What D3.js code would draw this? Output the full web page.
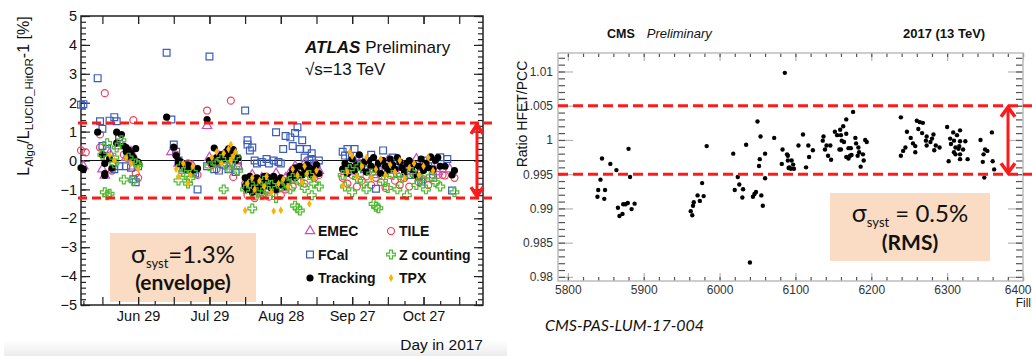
<!DOCTYPE html>
<html>
<head>
<meta charset="utf-8">
<script src="https://cdn.jsdelivr.net/npm/d3@7"></script>
<style>
  body { margin: 0; background: #fff; }
  svg { display: block; }
  text { font-family: "Liberation Sans", Arial, sans-serif; }
  .box { font-family: Lato, "Open Sans", sans-serif; }
</style>
</head>
<body>
<svg id="chart" width="1032" height="356"></svg>
<script>
// ---------- ATLAS (links): [dag van 2017, L_Algo/L_LUCID - 1 in %] ----------
const emec = [
  [157, -0.2], [165, -0.3], [166.5, -0.52], [168, 0.25], [172, 0.5], [175.5, 0.1], [177, 0.3], [178, -0.2], [179.5, 0.0],
  [194.5, 0.3], [197, -0.1], [199, -0.3], [201, -0.25], [203.5, -0.2],
  [209.8, 1.2], [210, 0.1], [212, -0.05], [214, 0.15], [216, 0.0], [218.5, -0.2], [220, 0.2], [222, -0.2],
  [226, -0.7], [228, -0.5], [230, -0.9], [232, -0.6], [234, -1.0], [236, -0.7], [238, -0.45], [240, -0.95], [242, -0.6],
  [244, -0.4], [246, -0.2], [248, -0.35], [250, -0.1], [252, -0.3], [254, -0.2], [256, -0.35],
  [267, -0.2], [270, -0.4], [273, -0.1], [276, -0.3], [279, -0.5], [282, -0.2], [285, 0.0], [288, -0.35], [291, -0.15],
  [294, -0.4], [297, 0.05], [300, -0.25], [303, -0.1], [306, -0.4], [311, -0.3]
];
const tile = [
  [156.8, 0.35], [158, 0.28],
  [166.8, 2.33], [164.5, 0.9], [164.8, 0.45], [167, 0.1], [169.8, -0.35], [172.5, 0.8], [174, 0.2], [176, 0.05],
  [177.5, 0.2], [178.5, 1.4], [179, -0.45], [180.5, -0.6],
  [195, 0.45], [196.5, 0.2], [199, -0.2], [201.5, -0.1], [203.5, -0.35], [205, -0.5],
  [209.8, 1.73], [211, -0.15], [213.5, -0.3], [215, 0.2], [217.5, -0.1], [219.2, 2.07], [220.5, -0.57], [222, 0.0],
  [225, -0.8], [226.5, -1.2], [228, -0.95], [229.5, -1.3], [231, -0.7], [232.5, -1.1], [234, -0.56], [235.5, -1.25],
  [237, -0.6], [238.5, -1.0], [240, -1.2], [241, -0.7], [242.5, -1.0], [244, -0.55], [245.5, -0.9], [247, -0.7],
  [248.5, -0.5], [250, -0.8], [252, -0.4], [254, -0.6], [256, -0.5],
  [266, -0.6], [268, -0.8], [270, -0.5], [272, -0.9], [274, -0.7], [276, -0.55], [278, -0.85], [280, -0.6], [282, -0.75],
  [284, -0.95], [286, -0.5], [288, -0.7], [290, -0.85], [292, -0.6], [294, -0.9], [296, -0.5], [298, -0.75], [300, -0.65],
  [302, -0.85], [304, -0.5], [306, -0.5], [308, -0.5], [309.6, -0.52], [313, -0.6]
];
const fcal = [
  [156.3, 1.93], [157.5, 1.95],
  [163.5, 2.85], [164.3, 1.36], [165, 1.1], [165.8, 0.5], [167, 0.4], [168.5, 1.38], [170.5, 1.5], [171.5, 1.36], [172, 0.8],
  [170, -0.3], [172.5, -0.2], [175, -0.2], [177, -0.25], [178.5, -0.65], [179.5, -0.75], [180, -0.2],
  [192.8, 3.73], [194.5, 1.42], [195, 0.55], [196, 0.3], [197.5, 0.0], [199.5, -0.15], [201, -0.3], [203, -0.4], [204, -0.45], [205, -1.0],
  [210, 3.6], [209, -0.2], [212, -0.3], [214, -0.35], [216, -0.15], [218, -0.3], [219.5, -0.1], [221, -0.4], [222, -0.2],
  [225.5, 1.73], [226, 0.55], [226.5, 0.7], [227.5, 0.35], [228, 0.45], [229, 0.0], [230, -0.1], [232, -0.05], [234, 0.05],
  [235.5, -0.1], [237, 0.0], [238, 0.98], [239, -0.05], [240.5, -0.1], [241.5, 0.4], [242.5, 0.85], [244, 0.8], [245, 0.5],
  [246.5, 0.95], [247, 1.15], [248, 0.4], [249.5, 0.7], [250, 0.1], [251, 0.4], [252, 0.0], [253, 0.25], [253.5, 0.05],
  [254.5, -0.1], [255.5, -0.25], [256, 0.0],
  [266, 0.3], [267, 0.17], [268, 0.4], [269.5, 0.15], [271.8, 0.4], [272, -0.1], [273.5, 0.05], [275, -0.3], [280, -0.98],
  [278, 0.2], [283.7, 0.35], [282, -0.1], [284, -0.35], [287, 0.1], [288, -0.25], [290, -0.45], [292, -0.15], [294, -0.5],
  [296, -0.3], [299.7, -0.73], [298, -0.55], [300, 0.0], [302, -0.2], [304, -0.6], [307.5, 0.11], [310, 0.05], [312, -1.04]
];
const zcount = [
  [165, 0.2], [166, -1.1], [167, -1.2], [168, -1.15], [167.5, 0.6], [170, 0.1], [170.5, -0.1], [171.5, 0.45], [173.5, 0.7],
  [174.5, -0.66], [176, 0.1], [178.5, -0.7], [179, -0.1], [180.5, -0.15],
  [197.5, -0.69], [198, -0.2], [199, -0.4], [200.5, -0.5], [201.5, -0.8], [202.5, -0.6], [203, -0.4],
  [210.5, -0.2], [213, -0.1], [215, 0.05], [216.8, -1.0], [218, -0.25], [219.5, -0.05], [221, 0.15], [222.5, -0.35],
  [225.5, -1.0], [227, -0.8], [228.3, -1.66], [229, -1.2], [231, -0.9], [232.5, -1.2], [233.5, -0.7], [235, -1.05],
  [236.5, -0.85], [238, -1.3], [240, -0.9], [242, -0.75], [244, -1.0], [245.5, -0.6], [246, -1.56], [247.5, -1.65],
  [248, -1.73], [248.5, -0.7], [250.5, -0.95], [252, -0.5], [253, -1.2], [254.5, -0.8], [256, -0.9],
  [266, -0.5], [267.5, -0.9], [269, -0.3], [270.5, -1.1], [272, -0.6], [273.5, -0.2], [275, -0.8], [276.5, -1.0],
  [278, -0.45], [279.5, -1.5], [280.5, -1.6], [281.5, -1.65], [283, -0.7], [285, -0.95], [287, -0.5], [289, -1.0],
  [291, -0.6], [293, -1.2], [295, -0.4], [297, -0.85], [299, -0.65], [301, -1.0], [303, -0.55], [305, -0.75],
  [307.5, -0.9], [313, -1.1]
];
const tracking = [
  [156.5, -0.25], [157.8, -0.3],
  [163.5, 0.98], [165.5, 0.2], [166, -0.52], [166.3, -0.45], [166.5, -0.1], [168, 0.05], [169.5, -0.27], [171.3, 0.98],
  [171.8, 0.6], [173.5, 0.9], [174.5, 0.5], [175, 0.3], [175.5, 0.45], [176, 0.15], [176.5, 0.35], [177.3, 0.25],
  [178, 0.1], [179.8, 0.41], [180.5, -0.05],
  [192.5, 1.5], [195, 0.46], [196.3, 0.17], [197, 0.0], [197.5, -0.1], [198.5, -0.05], [199, -0.2], [200, -0.3],
  [201, -0.15], [202, -0.25], [203, -0.35], [205, -0.28],
  [209.8, 1.42], [210.5, 0.0], [211.5, -0.1], [212.5, 0.43], [213.5, 0.1], [214.5, -0.05], [215.5, 0.2], [216.5, 0.05],
  [217, 0.3], [218, 0.15], [218.5, 0.4], [219.5, 0.1], [220, 0.25], [220.5, 0.38], [221.5, 0.0], [222.5, 0.1],
  [225, -0.6], [225.5, -0.9], [226, -0.75], [226.5, -1.0], [227, -0.55], [227.5, -0.8], [228, -1.1], [228.5, -0.65],
  [229, -0.9], [229.5, -0.7], [230, -1.0], [230.5, -0.6], [231, -0.85], [232, -0.75], [232.5, -1.05], [233, -0.55],
  [234, -0.9], [234.5, -0.7], [235, -0.6], [236, -0.95], [237, -0.8], [237.5, -0.55], [238, -1.0], [239, -0.7],
  [240, -0.85], [240.5, -0.6], [241, -0.75], [242, -0.9], [243, -0.7], [244, -0.5], [245, -0.35], [246, -0.6],
  [246.5, -0.25], [247.5, -0.45], [248, -0.2], [249, -0.5], [250, -0.3], [251, -0.15], [251.5, -0.4], [252.5, -0.25],
  [253.5, -0.5], [254.5, -0.3], [255, -0.15], [256, -0.45],
  [266, -0.3], [267, -0.1], [268, -0.45], [269, -0.2], [270, 0.05], [271, -0.35], [272, -0.15], [273, 0.2], [274, -0.25],
  [275, -0.05], [276, -0.4], [277, 0.0], [278, -0.2], [279, 0.1], [280, -0.3], [281, -0.1], [282, -0.45], [283, 0.0],
  [284, -0.2], [285, -0.35], [286, 0.05], [287, -0.15], [288, -0.3], [289, 0.1], [290, -0.05], [291, -0.25], [292, -0.4],
  [293, -0.1], [294, 0.0], [295, -0.3], [296, -0.15], [297, -0.5], [298, -0.2], [299, 0.05], [300, -0.35], [301, -0.1],
  [302, -0.25], [303, 0.13], [304, -0.3], [305, 0.0], [306, 0.1], [307.5, -0.2], [309, -0.2], [312.5, -0.5], [313, -0.35]
];
const tpx = [
  [168, 0.2], [170, 0.0], [175, 0.1], [177, -0.1], [180, -0.3],
  [196, -0.3], [197.5, -0.55], [199.5, -0.1], [201, -0.78], [202, -0.5], [203, -0.2],
  [211, 0.1], [213, 0.3], [215, -0.1], [216.5, 0.25], [218, 0.4], [219.3, 0.55], [219.5, 0.0], [220, 0.15], [221, 0.3],
  [225.5, -1.73], [226.5, -0.8], [228, -0.6], [229.5, -1.0], [231, -0.7], [233, -0.9], [234.5, -0.55], [236, -1.1],
  [237.5, -1.75], [239, -0.8], [240.5, -1.72], [241.5, -0.65], [243, -0.9], [245, -0.3], [247, -0.5], [249, -0.75],
  [250, -0.2], [251, -0.45], [252.5, -1.5], [254, -0.6], [255.5, -0.35],
  [266, -0.87], [269, 0.29], [268, -0.4], [270, 0.15], [272, -0.55], [274, -0.2], [276, 0.1], [278, -0.6], [280, -0.3],
  [282, 0.05], [284, -0.5], [286, -0.15], [288, -0.4], [290, 0.0], [292, -0.6], [294, -0.25], [296, -0.1], [298, -0.5],
  [300, -0.2], [302, 0.1], [304, -0.35]
];
const atlasTickDays = [180, 210, 240, 270, 300];
const atlasTickLabels = ["Jun 29", "Jul 29", "Aug 28", "Sep 27", "Oct 27"];
const atlasEnvelope = 1.3;

// ---------- CMS (rechts): [fill, HFET/PCC] ----------
const cmsPoints = [
  [5845, 0.9973], [5843, 0.9942], [5840, 0.9927], [5849, 0.9927], [5839, 0.9917], [5848, 0.9914], [5856, 0.9965],
  [5864, 0.9956], [5880, 0.9987], [5882, 0.9946], [5866, 0.9901], [5868, 0.9889], [5872, 0.9892], [5873, 0.9906],
  [5876, 0.9906], [5879, 0.9908], [5884, 0.9899], [5888, 0.9907],
  [5983, 0.9991], [5977, 0.9937], [5971, 0.9919], [5979, 0.9918], [5974, 0.9911], [5966, 0.9909], [5965, 0.9904],
  [5962, 0.9896], [5964, 0.9890],
  [6018, 0.9980], [6024, 0.9946], [6020, 0.9927], [6026, 0.9935], [6031, 0.9928], [6030, 0.9916], [6035, 0.9993],
  [6040, 0.9821], [6044, 0.9917], [6046, 0.9921], [6048, 0.9924], [6050, 1.0027], [6054, 1.0005], [6053, 0.9972],
  [6052, 0.9962], [6055, 0.9919], [6057, 0.9904], [6060, 0.9980], [6060, 0.9944], [6072, 1.0003],
  [6086, 1.0098], [6083, 0.9986], [6082, 0.9965], [6089, 0.9979], [6090, 0.9977], [6091, 0.9959], [6090, 0.9970],
  [6095, 0.9970], [6097, 0.9964], [6092, 0.9960], [6094, 0.9958], [6098, 0.9958],
  [6110, 1.0008], [6104, 0.9992], [6117, 0.9992], [6123, 0.9985], [6118, 0.9975], [6114, 0.9960],
  [6137, 1.0005], [6136, 0.9999], [6141, 0.9992], [6146, 0.9992], [6139, 0.9986], [6143, 0.9977], [6147, 0.9971],
  [6152, 1.0012], [6159, 1.0015], [6163, 1.0020], [6167, 1.0030], [6176, 1.0041], [6155, 1.0007], [6160, 1.0007],
  [6161, 0.9999], [6167, 1.0009], [6158, 0.9986], [6160, 0.9986], [6170, 0.9988], [6173, 0.9988], [6164, 0.9997],
  [6167, 0.9975], [6172, 0.9977], [6174, 0.9978], [6170, 0.9973], [6179, 1.0003], [6180, 0.9995], [6183, 0.9989],
  [6184, 0.9982], [6182, 0.9977], [6189, 0.9979], [6186, 0.9961], [6190, 0.9970], [6192, 1.0000], [6194, 0.9997],
  [6239, 1.0033], [6247, 1.0012], [6252, 1.0003], [6255, 0.9995], [6245, 0.9989], [6242, 0.9984], [6239, 0.9977],
  [6258, 0.9991], [6258, 0.9982], [6260, 1.0028], [6264, 1.0026], [6268, 1.0025], [6262, 1.0016], [6267, 1.0010],
  [6273, 1.0005], [6282, 1.0008], [6272, 0.9999], [6278, 0.9997], [6280, 1.0002], [6273, 0.9992], [6285, 0.9992],
  [6290, 0.9989], [6283, 0.9985],
  [6300, 1.0019], [6308, 1.0011], [6317, 1.0014], [6304, 1.0002], [6309, 0.9999], [6313, 1.0007], [6317, 0.9998],
  [6305, 0.9994], [6311, 0.9989], [6316, 0.9991], [6309, 0.9982], [6315, 0.9987], [6324, 0.9998], [6321, 0.9986],
  [6311, 0.9979], [6317, 0.9979], [6302, 0.9969], [6317, 0.9972], [6327, 0.9972],
  [6344, 1.0000], [6359, 1.0011], [6350, 0.9986], [6353, 0.9984], [6348, 0.9979], [6347, 0.9968], [6360, 0.9969],
  [6362, 0.9957], [6349, 0.9945]
];
const cmsTicksX = [5800, 5900, 6000, 6100, 6200, 6300, 6400];
const cmsTicksY = [0.98, 0.985, 0.99, 0.995, 1, 1.005, 1.01];
const cmsBand = [0.995, 1.005];

const svg = d3.select("#chart");
const peach = "#f9dcc3";
const rood = "#ff1a1a";

function dag(d) { return new Date(2017, 0, d); }

function maakAtlas() {
  const x = d3.scaleTime().domain([dag(156), dag(325)]).range([81, 483]);
  const y = d3.scaleLinear().domain([-5, 5]).range([305, 16]);
  const g = svg.append("g");

  // onderste rand: lichtgrijs verloop
  const grad = svg.append("defs").append("linearGradient").attr("id", "onder").attr("x1", 0).attr("x2", 0).attr("y1", 0).attr("y2", 1);
  grad.append("stop").attr("offset", 0).attr("stop-color", "#fff");
  grad.append("stop").attr("offset", 1).attr("stop-color", "#ececec");
  g.append("rect").attr("x", 4).attr("y", 340).attr("width", 503).attr("height", 16).attr("fill", "url(#onder)");

  // peach vak
  g.append("rect").attr("x", 110).attr("y", 233).attr("width", 146).attr("height", 69).attr("fill", peach);
  const t1 = g.append("text").attr("class", "box").attr("x", 183).attr("y", 263).attr("text-anchor", "middle").attr("fill", "#111");
  t1.append("tspan").attr("font-size", 25).text("σ");
  t1.append("tspan").attr("font-size", 13).attr("dy", 5).text("syst");
  t1.append("tspan").attr("font-size", 24).attr("dy", -5).text("=1.3%");
  g.append("text").attr("class", "box").attr("x", 183).attr("y", 290).attr("text-anchor", "middle")
    .attr("font-size", 21).attr("font-weight", "bold").attr("fill", "#111").text("(envelope)");

  // assen
  const fmt = d => d < 0 ? "\u2212" + (-d) : String(d);
  const links = g.append("g").attr("transform", "translate(81,0)")
    .call(d3.axisLeft(y).tickValues(d3.range(-5, 6)).tickSize(-9).tickSizeOuter(0).tickPadding(4).tickFormat(fmt));
  links.selectAll("text").attr("font-size", 14.5).attr("fill", "#111");
  g.append("g").attr("transform", "translate(81,0)")
    .call(d3.axisLeft(y).tickValues(d3.range(-50, 51, 2).map(v => v / 10)).tickSize(-5).tickSizeOuter(0).tickFormat(""));
  g.append("g").attr("transform", "translate(483,0)")
    .call(d3.axisRight(y).tickValues(d3.range(-5, 6)).tickSize(-9).tickSizeOuter(0).tickFormat(""));
  g.append("g").attr("transform", "translate(483,0)")
    .call(d3.axisRight(y).tickValues(d3.range(-50, 51, 2).map(v => v / 10)).tickSize(-5).tickSizeOuter(0).tickFormat(""));

  const onder = g.append("g").attr("transform", "translate(0,305)")
    .call(d3.axisBottom(x).tickValues(atlasTickDays.map(dag)).tickSize(-8).tickSizeOuter(0).tickPadding(6)
      .tickFormat((d, i) => atlasTickLabels[i]));
  onder.selectAll("text").attr("font-size", 14.5).attr("fill", "#111");
  const halve = d3.range(165, 325, 15).map(dag);
  const kwart = d3.range(157.5, 325, 15).map(dag);
  g.append("g").attr("transform", "translate(0,305)").call(d3.axisBottom(x).tickValues(halve).tickSize(-8).tickSizeOuter(0).tickFormat(""));
  g.append("g").attr("transform", "translate(0,305)").call(d3.axisBottom(x).tickValues(kwart).tickSize(-4).tickSizeOuter(0).tickFormat(""));
  g.append("g").attr("transform", "translate(0,16)")
    .call(d3.axisTop(x).tickValues(atlasTickDays.map(dag).concat(halve)).tickSize(-8).tickSizeOuter(0).tickFormat(""));
  g.selectAll(".domain").remove();
  g.selectAll(".tick line").attr("stroke", "#222").attr("stroke-width", 1.2);

  g.append("rect").attr("x", 81).attr("y", 16).attr("width", 402).attr("height", 289)
    .attr("fill", "none").attr("stroke", "#222").attr("stroke-width", 1.5);

  // nul-lijn
  g.append("line").attr("x1", 81).attr("x2", 483).attr("y1", y(0)).attr("y2", y(0)).attr("stroke", "#111").attr("stroke-width", 1.2);

  // meetpunten
  const sym = (type, size) => d3.symbol().type(type).size(size)();
  const reeksen = [
    { data: tile, pad: sym(d3.symbolCircle, 38), fill: "none", stroke: "#f0405a" },
    { data: fcal, pad: sym(d3.symbolSquare, 46), fill: "none", stroke: "#3c5db8" },
    { data: emec, pad: sym(d3.symbolTriangle, 38), fill: "none", stroke: "#c64fc6" },
    { data: tracking, pad: sym(d3.symbolCircle, 40), fill: "#000", stroke: "none" },
    { data: zcount, pad: sym(d3.symbolCross, 42), fill: "none", stroke: "#4dbb2e" },
    { data: tpx, pad: sym(d3.symbolDiamond, 18), fill: "#ffb000", stroke: "none" }
  ];
  const punten = g.append("g");
  reeksen.forEach(r => {
    punten.append("g").selectAll("path").data(r.data).join("path")
      .attr("transform", d => `translate(${x(dag(d[0]))},${y(d[1])})`)
      .attr("d", r.pad).attr("fill", r.fill).attr("stroke", r.stroke).attr("stroke-width", 1.2);
  });

  // envelope lijnen
  [atlasEnvelope, -atlasEnvelope].forEach(v => {
    g.append("line").attr("x1", 78).attr("x2", 492).attr("y1", y(v)).attr("y2", y(v))
      .attr("stroke", rood).attr("stroke-width", 3).attr("stroke-dasharray", "9,5");
  });
  pijl(g, 477, y(atlasEnvelope), y(-atlasEnvelope), 6, 11);

  // legenda
  const legenda = [
    ["EMEC", 0, 0], ["TILE", 1, 0], ["FCal", 0, 1], ["Z counting", 1, 1], ["Tracking", 0, 2], ["TPX", 1, 2]
  ];
  const volgorde = { "EMEC": 2, "TILE": 0, "FCal": 1, "Z counting": 4, "Tracking": 3, "TPX": 5 };
  legenda.forEach(([naam, kol, rij]) => {
    const r = reeksen[volgorde[naam]];
    const lx = kol ? 391 : 310, ly = 231 + rij * 23.5;
    g.append("path").attr("transform", `translate(${lx},${ly})`).attr("d", r.pad)
      .attr("fill", r.fill).attr("stroke", r.stroke).attr("stroke-width", 1.2);
    g.append("text").attr("x", lx + 8).attr("y", ly + 5).attr("font-size", 14).attr("font-weight", "bold")
      .attr("fill", "#111").text(naam);
  });

  // titel
  const titel = g.append("text").attr("x", 305).attr("y", 52.5).attr("font-size", 17).attr("fill", "#111");
  titel.append("tspan").attr("font-weight", "bold").attr("font-style", "italic").text("ATLAS");
  titel.append("tspan").text(" Preliminary");
  g.append("text").attr("x", 305).attr("y", 75).attr("font-size", 17).attr("fill", "#111").text("\u221As=13 TeV");

  // as-titels
  g.append("text").attr("x", 483).attr("y", 350).attr("text-anchor", "end").attr("font-size", 15.5).attr("fill", "#111").text("Day in 2017");
  const yt = g.append("text").attr("transform", "translate(29,96) rotate(-90)").attr("text-anchor", "middle")
    .attr("font-size", 16).attr("fill", "#111");
  yt.append("tspan").text("L");
  yt.append("tspan").attr("font-size", 11.5).attr("dy", 4).text("Algo");
  yt.append("tspan").attr("dy", -4).text("/L");
  yt.append("tspan").attr("font-size", 11.5).attr("dy", 4).text("LUCID_HitOR");
  yt.append("tspan").attr("dy", -4).text("-1 [%]");
}

function pijl(g, px, y1, y2, w, h) {
  g.append("line").attr("x1", px).attr("x2", px).attr("y1", y1 + 2).attr("y2", y2 - 2)
    .attr("stroke", rood).attr("stroke-width", 3);
  g.append("polyline").attr("points", `${px - w},${y1 + h} ${px},${y1 + 1.5} ${px + w},${y1 + h}`)
    .attr("fill", "none").attr("stroke", rood).attr("stroke-width", 3.5);
  g.append("polyline").attr("points", `${px - w},${y2 - h} ${px},${y2 - 1.5} ${px + w},${y2 - h}`)
    .attr("fill", "none").attr("stroke", rood).attr("stroke-width", 3.5);
}

function maakCms() {
  const x = d3.scaleLinear().domain([5787, 6400]).range([558, 1023]);
  const y = d3.scaleLinear().domain([0.9794, 1.0127]).range([281, 53]);
  const g = svg.append("g");

  g.append("rect").attr("x", 830).attr("y", 193).attr("width", 160).attr("height", 68).attr("fill", peach);
  const t1 = g.append("text").attr("class", "box").attr("x", 910).attr("y", 222).attr("text-anchor", "middle").attr("fill", "#111");
  t1.append("tspan").attr("font-size", 25).text("σ");
  t1.append("tspan").attr("font-size", 13).attr("dy", 5).text("syst");
  t1.append("tspan").attr("font-size", 24).attr("dy", -5).text(" = 0.5%");
  g.append("text").attr("class", "box").attr("x", 910).attr("y", 250).attr("text-anchor", "middle")
    .attr("font-size", 21).attr("font-weight", "bold").attr("fill", "#111").text("(RMS)");

  const minY = d3.range(980, 1013).map(v => v / 1000);
  const links = g.append("g").attr("transform", "translate(558,0)")
    .call(d3.axisLeft(y).tickValues(cmsTicksY).tickSize(-15).tickSizeOuter(0).tickPadding(5).tickFormat(d => String(+d.toFixed(3))));
  links.selectAll("text").attr("font-size", 12).attr("fill", "#333");
  g.append("g").attr("transform", "translate(558,0)").call(d3.axisLeft(y).tickValues(minY).tickSize(-7).tickSizeOuter(0).tickFormat(""))
    .selectAll("line").attr("class", "klein");
  g.append("g").attr("transform", "translate(1023,0)").call(d3.axisRight(y).tickValues(cmsTicksY).tickSize(-15).tickSizeOuter(0).tickFormat(""));
  g.append("g").attr("transform", "translate(1023,0)").call(d3.axisRight(y).tickValues(minY).tickSize(-7).tickSizeOuter(0).tickFormat(""))
    .selectAll("line").attr("class", "klein");

  const minX = d3.range(5800, 6401, 20);
  const onder = g.append("g").attr("transform", "translate(0,281)")
    .call(d3.axisBottom(x).tickValues(cmsTicksX).tickSize(-8).tickSizeOuter(0).tickPadding(4).tickFormat(d3.format("d")));
  onder.selectAll("text").attr("font-size", 12).attr("fill", "#333");
  // laatste label valt tegen de rand; rechts uitlijnen
  onder.selectAll("text").filter(d => d === 6400).attr("text-anchor", "end").attr("x", 8);
  g.append("g").attr("transform", "translate(0,281)").call(d3.axisBottom(x).tickValues(minX).tickSize(-4).tickSizeOuter(0).tickFormat(""))
    .selectAll("line").attr("class", "klein");
  g.append("g").attr("transform", "translate(0,53)").call(d3.axisTop(x).tickValues(cmsTicksX).tickSize(-8).tickSizeOuter(0).tickFormat(""));
  g.append("g").attr("transform", "translate(0,53)").call(d3.axisTop(x).tickValues(minX).tickSize(-4).tickSizeOuter(0).tickFormat(""))
    .selectAll("line").attr("class", "klein");
  g.selectAll(".domain").remove();
  g.selectAll(".tick line").attr("stroke", "#b5b5b5").attr("stroke-width", 1.2);
  g.selectAll(".tick line.klein").attr("stroke", "#555");

  g.append("rect").attr("x", 558).attr("y", 53).attr("width", 465).attr("height", 228)
    .attr("fill", "none").attr("stroke", "#bdbdbd").attr("stroke-width", 1.5);

  g.append("g").selectAll("circle").data(cmsPoints).join("circle")
    .attr("cx", d => x(d[0])).attr("cy", d => y(d[1])).attr("r", 2.2).attr("fill", "#000");

  cmsBand.forEach(v => {
    g.append("line").attr("x1", 558).attr("x2", 1032).attr("y1", y(v)).attr("y2", y(v))
      .attr("stroke", rood).attr("stroke-width", 3).attr("stroke-dasharray", "10,5");
  });
  pijl(g, 1008, y(cmsBand[1]), y(cmsBand[0]), 7, 11);

  const titel = g.append("text").attr("x", 607).attr("y", 38).attr("font-size", 12.5).attr("fill", "#111");
  titel.append("tspan").attr("font-weight", "bold").text("CMS");
  titel.append("tspan").attr("dx", 12).attr("font-style", "italic").attr("font-size", 13).text("Preliminary");
  g.append("text").attr("x", 903).attr("y", 38).attr("font-size", 13).attr("font-weight", "bold").attr("fill", "#111").text("2017 (13 TeV)");

  g.append("text").attr("x", 1031).attr("y", 307).attr("text-anchor", "end").attr("font-size", 12).attr("fill", "#222").text("Fill");
  g.append("text").attr("transform", "translate(527,114) rotate(-90)").attr("text-anchor", "middle")
    .attr("font-size", 14).attr("fill", "#111").text("Ratio HFET/PCC");

  g.append("text").attr("class", "box").attr("x", 545).attr("y", 331).attr("font-size", 16).attr("font-style", "italic")
    .attr("fill", "#111").text("CMS-PAS-LUM-17-004");
}

maakAtlas();
maakCms();
</script>
</body>
</html>
